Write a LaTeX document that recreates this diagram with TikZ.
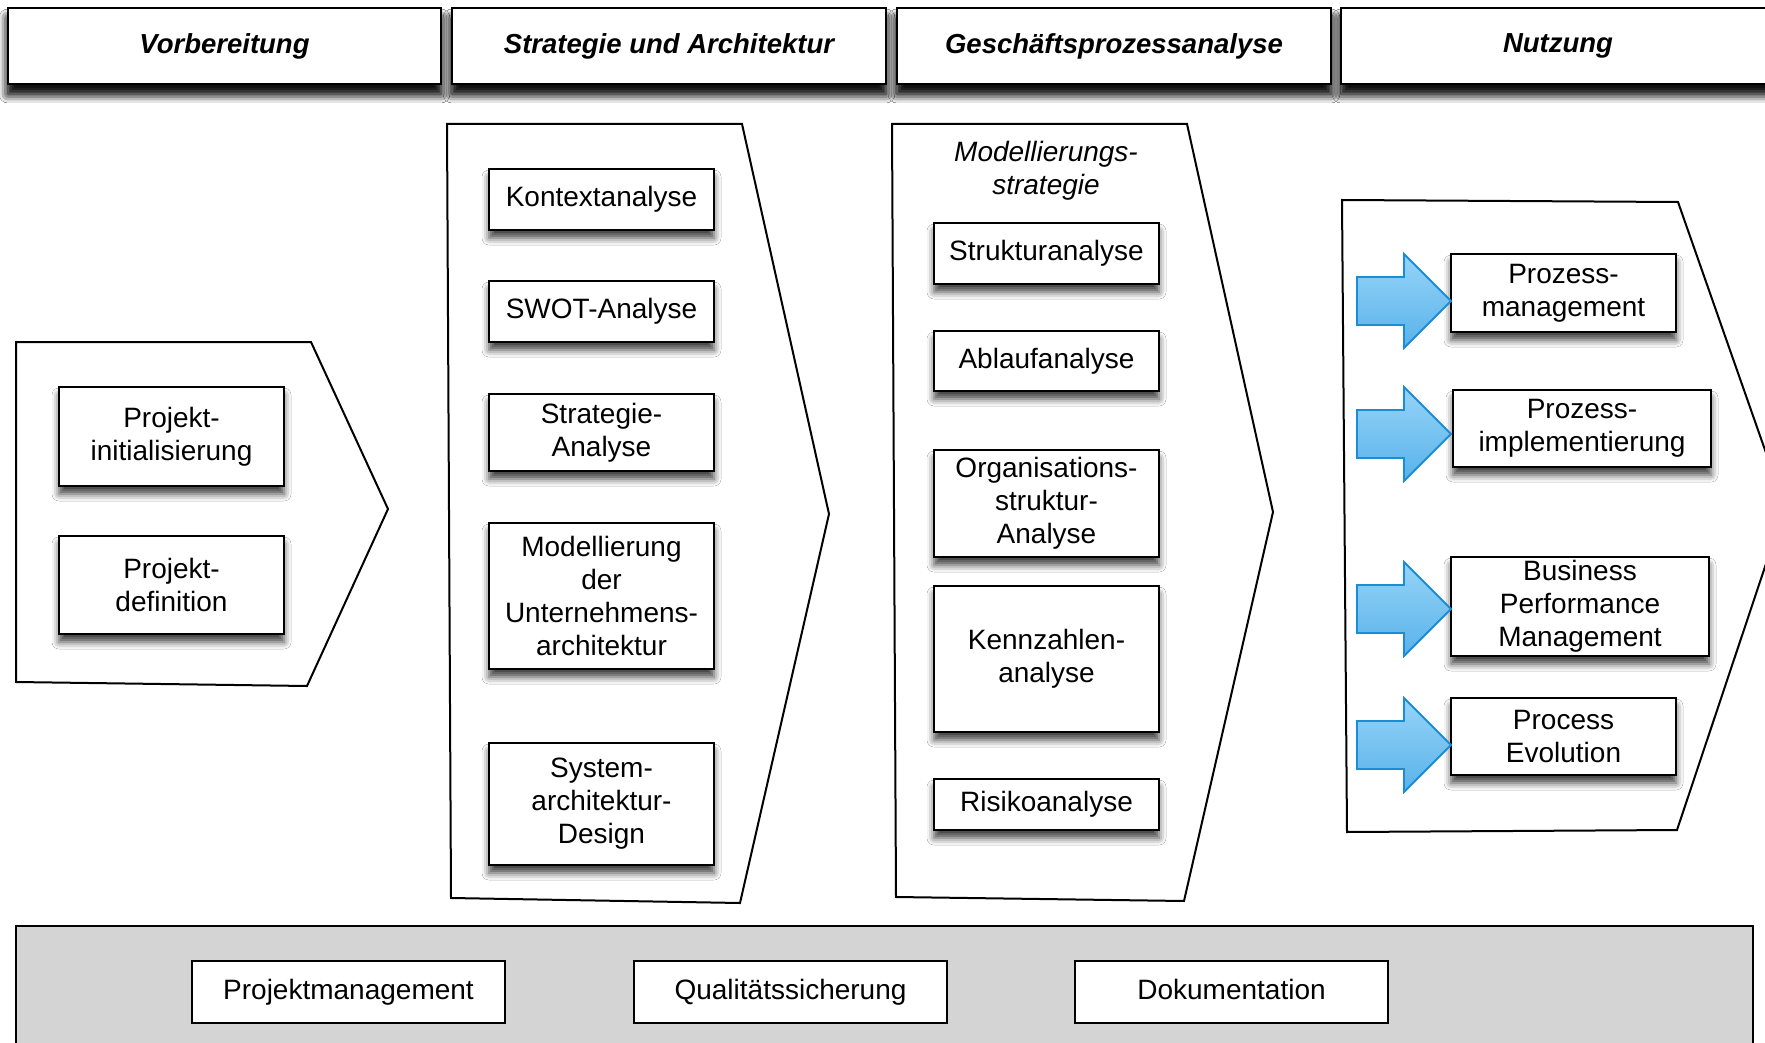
\documentclass[tikz,border=0pt]{standalone}
\usepackage{fontspec}
\setmainfont{Liberation Sans}
\usetikzlibrary{shadows.blur}
\definecolor{arrowtop}{RGB}{150,212,248}
\definecolor{arrowbot}{RGB}{88,178,234}
\definecolor{arrowline}{RGB}{28,140,212}
\definecolor{graybg}{RGB}{212,212,212}
\begin{document}
\begin{tikzpicture}[x=1pt,y=-1pt,
  box/.style={draw=black, line width=2pt, fill=white, align=center, inner sep=0pt,
    font=\fontsize{28}{33}\selectfont,
    blur shadow={shadow xshift=0pt, shadow yshift=-8pt, shadow blur radius=7pt, shadow opacity=75}},
  hdr/.style={box, font=\fontsize{27.5}{33}\selectfont\bfseries\itshape,
    blur shadow={shadow xshift=0pt, shadow yshift=-10pt, shadow blur radius=9pt, shadow opacity=80}},
  flat/.style={draw=black, line width=2pt, fill=white, align=center, inner sep=0pt,
    font=\fontsize{28}{33}\selectfont, text height=20pt, text depth=6pt},
  chev/.style={draw=black, line width=2pt, fill=white, line join=miter},
  barrow/.style={draw=arrowline, line width=1.8pt, top color=arrowtop, bottom color=arrowbot, line join=miter}
]
\useasboundingbox (0,0) rectangle (1765,1043);
\clip (0,0) rectangle (1765,1043);
\fill[white] (0,0) rectangle (1765,1043);

% headers
\node[hdr, minimum width=433pt, minimum height=76pt] (h1) at (224.5,46) {Vorbereitung};
\node[hdr, minimum width=434pt, minimum height=76pt] (h2) at (669,46) {Strategie und Architektur};
\node[hdr, minimum width=434pt, minimum height=76pt] (h3) at (1114,46) {Geschäftsprozessanalyse};
\node[hdr, minimum width=434pt, minimum height=76pt] (h4) at (1558,46) {Nutzung};

% chevrons
\draw[chev] (16,342) -- (311,342) -- (388,509) -- (307,686) -- (16,682) -- cycle;
\draw[chev] (447,124) -- (742,124) -- (829,514) -- (740,903) -- (451,898) -- cycle;
\draw[chev] (892,124) -- (1187,124) -- (1273,512) -- (1184,901) -- (896,897) -- cycle;
\draw[chev] (1342,200) -- (1678,202) -- (1785,507) -- (1677,830) -- (1347,832) -- cycle;

% column 1
\node[box, minimum width=225pt, minimum height=99pt] (pi) at (171.5,436.5) {Projekt-\\initialisierung};
\node[box, minimum width=225pt, minimum height=98pt] (pd) at (171.5,585) {Projekt-\\definition};

% column 2
\node[box, minimum width=225pt, minimum height=61pt] (ka) at (601.5,199.5) {Kontextanalyse};
\node[box, minimum width=225pt, minimum height=61pt] (sw) at (601.5,311.5) {SWOT-Analyse};
\node[box, minimum width=225pt, minimum height=77pt] (sa) at (601.5,432.5) {Strategie-\\Analyse};
\node[box, minimum width=225pt, minimum height=146pt] (mu) at (601.5,596) {Modellierung\\der\\Unternehmens-\\architektur};
\node[box, minimum width=225pt, minimum height=122pt] (sy) at (601.5,804) {System-\\architektur-\\Design};

% column 3
\node[align=center, font=\fontsize{28}{33}\selectfont\itshape] (ms) at (1046,171) {Modellierungs-\\strategie};
\node[box, minimum width=225pt, minimum height=61pt] (st) at (1046.5,253.5) {Strukturanalyse};
\node[box, minimum width=225pt, minimum height=60pt] (ab) at (1046.5,361) {Ablaufanalyse};
\node[box, minimum width=225pt, minimum height=107pt] (os) at (1046.5,503.5) {Organisations-\\struktur-\\Analyse};
\node[box, minimum width=225pt, minimum height=146pt] (kz) at (1046.5,659) {Kennzahlen-\\analyse};
\node[box, minimum width=225pt, minimum height=51pt] (ri) at (1046.5,804.5) {Risikoanalyse};

% column 4
\node[box, minimum width=225pt, minimum height=78pt] (pm) at (1563.5,293) {Prozess-\\management};
\node[box, minimum width=258pt, minimum height=77pt] (pim) at (1582,428.5) {Prozess-\\implementierung};
\node[box, minimum width=258pt, minimum height=99pt] (bpm) at (1580,606.5) {Business\\Performance\\Management};
\node[box, minimum width=225pt, minimum height=77pt] (pe) at (1563.5,736.5) {Process\\Evolution};

% blue arrows
\foreach \yc in {301,434,609,745}{
  \draw[barrow] (1357,\yc-24) -- (1404,\yc-24) -- (1404,\yc-47) -- (1451,\yc) -- (1404,\yc+47) -- (1404,\yc+24) -- (1357,\yc+24) -- cycle;
}

% bottom band
\draw[fill=graybg, line width=2pt] (16,926) rectangle (1753,1080);
\node[flat, minimum width=313pt, minimum height=62pt] (b1) at (348.5,992) {Projektmanagement};
\node[flat, minimum width=313pt, minimum height=62pt] (b2) at (790.5,992) {Qualitätssicherung};
\node[flat, minimum width=313pt, minimum height=62pt] (b3) at (1231.5,992) {Dokumentation};
\end{tikzpicture}
\end{document}
